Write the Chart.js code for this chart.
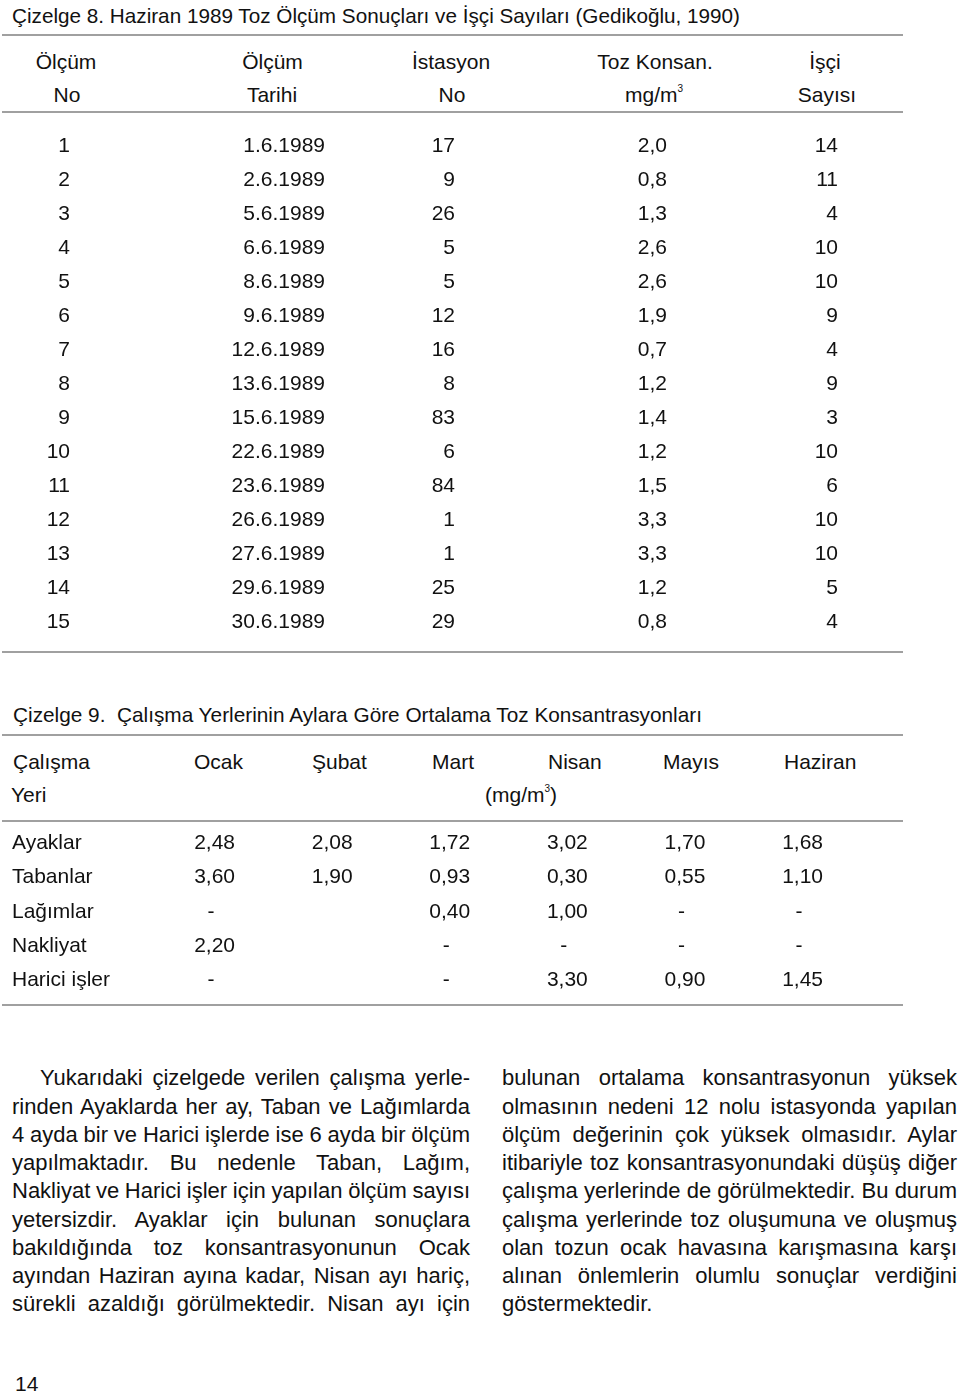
<!DOCTYPE html>
<html lang="tr"><head><meta charset="utf-8">
<script src="https://cdn.jsdelivr.net/npm/chart.js@4.4.1/dist/chart.umd.min.js"></script>
<style>
html,body{margin:0;padding:0;background:#fff}
#page{position:relative;width:960px;height:1393px;overflow:hidden;font-family:"Liberation Sans",Arial,Helvetica,sans-serif;color:#111;background:#fff}
.t{position:absolute;white-space:nowrap;line-height:1}
.rule{position:absolute;left:2px;width:901px;height:2px;background:#a0a0a0}
canvas{position:absolute;left:0}
.sup{font-size:10px;position:relative;top:-10px}
</style></head>
<body><div id="page">
<canvas id="t8" width="960" height="520" style="top:120px"></canvas>
<canvas id="t9" width="960" height="175" style="top:825px"></canvas>
</div>
<script>
// ---------- DATA: Çizelge 8 ----------
const olcumNo     = [1,2,3,4,5,6,7,8,9,10,11,12,13,14,15];
const olcumTarihi = ["1.6.1989","2.6.1989","5.6.1989","6.6.1989","8.6.1989","9.6.1989","12.6.1989","13.6.1989","15.6.1989","22.6.1989","23.6.1989","26.6.1989","27.6.1989","29.6.1989","30.6.1989"];
const istasyonNo  = [17,9,26,5,5,12,16,8,83,6,84,1,1,25,29];
const tozKonsan   = [2.0,0.8,1.3,2.6,2.6,1.9,0.7,1.2,1.4,1.2,1.5,3.3,3.3,1.2,0.8];
const isciSayisi  = [14,11,4,10,10,9,4,9,3,10,6,10,10,5,4];

// ---------- DATA: Çizelge 9 (null = "-", undefined = boş) ----------
const calismaYeri = ["Ayaklar","Tabanlar","Lağımlar","Nakliyat","Harici işler"];
const aylar       = ["Ocak","Şubat","Mart","Nisan","Mayıs","Haziran"];
const ayaklar     = [2.48,2.08,1.72,3.02,1.70,1.68];
const tabanlar    = [3.60,1.90,0.93,0.30,0.55,1.10];
const lagimlar    = [null,undefined,0.40,1.00,null,null];
const nakliyat    = [2.20,undefined,null,null,null,null];
const hariciIsler = [null,undefined,null,3.30,0.90,1.45];

// ---------- TEXT ----------
const title8 = "Çizelge 8. Haziran 1989 Toz Ölçüm Sonuçları ve İşçi Sayıları (Gedikoğlu, 1990)";
const title9 = "Çizelge 9.\u00a0\u00a0Çalışma Yerlerinin Aylara Göre Ortalama Toz Konsantrasyonları";
const head8row1 = ["Ölçüm","Ölçüm","İstasyon","Toz Konsan.","İşçi"];
const head8row2 = ["No","Tarihi","No","mg/m<span class='sup'>3</span>","Sayısı"];
const head9row1 = ["Çalışma","Ocak","Şubat","Mart","Nisan","Mayıs","Haziran"];
const head9row2 = ["Yeri","(mg/m<span class='sup'>3</span>)"];
const leftLines = [
 "Yukarıdaki çizelgede verilen çalışma yerle-",
 "rinden Ayaklarda her ay, Taban ve Lağımlarda",
 "4 ayda bir ve Harici işlerde ise 6 ayda bir ölçüm",
 "yapılmaktadır. Bu nedenle Taban, Lağım,",
 "Nakliyat ve Harici işler için yapılan ölçüm sayısı",
 "yetersizdir. Ayaklar için bulunan sonuçlara",
 "bakıldığında toz konsantrasyonunun Ocak",
 "ayından Haziran ayına kadar, Nisan ayı hariç,",
 "sürekli azaldığı görülmektedir. Nisan ayı için"
];
const rightLines = [
 "bulunan ortalama konsantrasyonun yüksek",
 "olmasının nedeni 12 nolu istasyonda yapılan",
 "ölçüm değerinin çok yüksek olmasıdır. Aylar",
 "itibariyle toz konsantrasyonundaki düşüş diğer",
 "çalışma yerlerinde de görülmektedir. Bu durum",
 "çalışma yerlerinde toz oluşumuna ve oluşmuş",
 "olan tozun ocak havasına karışmasına karşı",
 "alınan önlemlerin olumlu sonuçlar verdiğini",
 "göstermektedir."
];
const pageNo = "14";

// ---------- LAYOUT ----------
const page = document.getElementById('page');
const FONT = '"Liberation Sans", Arial, Helvetica, sans-serif';
const INK = '#111';
function place(html, x, baseline, fs, align){
  const d = document.createElement('div');
  d.className = 't';
  d.style.fontSize = fs + 'px';
  d.innerHTML = html;
  d.style.top = (baseline - 0.8465*fs) + 'px';
  if (align === 'center'){ d.style.left = x + 'px'; d.style.transform = 'translateX(-50%)'; }
  else if (align === 'right'){ d.style.right = (960 - x) + 'px'; }
  else d.style.left = x + 'px';
  page.appendChild(d);
  return d;
}
function fitScale(el, w){
  const nat = el.getBoundingClientRect().width;
  el.style.transformOrigin = 'left';
  el.style.transform = 'scaleX(' + (w/nat) + ')';
}
function fitWords(el, w){
  const nat = el.getBoundingClientRect().width;
  const n = (el.textContent.match(/ /g) || []).length;
  if (n) el.style.wordSpacing = ((w - nat)/n) + 'px';
}
function rule(y){ const r = document.createElement('div'); r.className='rule'; r.style.top = y + 'px'; page.appendChild(r); }

// titles
fitScale(place(title8, 12, 23, 21, 'left'), 728);
fitScale(place(title9, 13, 722, 21, 'left'), 689);
[34,111,651,734,820,1004].forEach(rule);

// table 8 header
const h8c1 = [66,272.5,451,655,825];
const h8c2 = [67,272,452,654,827];
head8row1.forEach((s,i)=>place(s, h8c1[i], 69, 21, 'center'));
head8row2.forEach((s,i)=>place(s, h8c2[i], 102, 21, 'center'));

// table 9 header
const h9x1 = [13,194,312,432,548,663,784];
head9row1.forEach((s,i)=>place(s, h9x1[i], 769, 21, 'left'));
place(head9row2[0], 11, 802, 21, 'left');
place(head9row2[1], 485, 802, 21, 'left');

// paragraphs
const PFS = 22, LH = 28.25, B0 = 1086;
leftLines.forEach((s,i)=>{
  const x0 = i === 0 ? 40 : 12;
  const el = place(s, x0, B0 + LH*i, PFS, 'left');
  fitWords(el, 470 - x0);
});
rightLines.forEach((s,i)=>{
  const el = place(s, 502, B0 + LH*i, PFS, 'left');
  if (i < rightLines.length - 1) fitWords(el, 455);
});
place(pageNo, 15, 1391, 21, 'left');

// ---------- CHART.JS TABLES ----------
const cellText = {
  id: 'cellText',
  afterDatasetsDraw(chart, args, opts){
    const ctx = chart.ctx;
    ctx.save();
    ctx.font = opts.font; ctx.fillStyle = opts.color; ctx.textBaseline = 'alphabetic';
    chart.data.datasets.forEach((ds, di)=>{
      const meta = chart.getDatasetMeta(di);
      meta.data.forEach((el, i)=>{
        const raw = ds.data[i];
        if (raw.v === null){ ctx.textAlign = 'center'; ctx.fillText('-', el.x + opts.dashOffset, el.y); }
        else { ctx.textAlign = 'right'; ctx.fillText(ds.fmt(raw.v), el.x, el.y); }
      });
    });
    if (opts.rowLabelX !== undefined){
      const ys = chart.scales.y;
      ctx.textAlign = 'left';
      ys.getLabels().forEach((lab, i)=>ctx.fillText(lab, opts.rowLabelX, ys.getPixelForTick(i)));
    }
    ctx.restore();
  }
};
const comma = d => v => v.toFixed(d).replace('.', ',');

// Çizelge 8
const t8Columns = [
  {values: olcumNo,     fmt: String},
  {values: olcumTarihi, fmt: String},
  {values: istasyonNo,  fmt: String},
  {values: tozKonsan,   fmt: comma(1)},
  {values: isciSayisi,  fmt: String}
];
const t8ColumnRightEdge = [70, 325, 455, 667, 838]; // layout (px on a 0-960 axis)
const rowKeys = olcumNo.map(String);
new Chart(document.getElementById('t8'), {
  type: 'scatter',
  data: { datasets: t8Columns.map((c, ci)=>({
    data: c.values.map((v, i)=>({x: t8ColumnRightEdge[ci], y: rowKeys[i], v})),
    fmt: c.fmt, pointRadius: 0, pointHoverRadius: 0
  })) },
  options: {
    responsive: false, animation: false, events: [], devicePixelRatio: 1,
    layout: { padding: {top: 32, bottom: 12, left: 0, right: 0} },
    scales: {
      x: {type: 'linear', min: 0, max: 960, display: false},
      y: {type: 'category', labels: rowKeys, offset: false, display: false}
    },
    plugins: { legend: {display: false}, tooltip: {enabled: false},
      cellText: {font: '21px ' + FONT, color: INK, dashOffset: 0} }
  },
  plugins: [cellText]
});

// Çizelge 9
const t9Rows = [ayaklar, tabanlar, lagimlar, nakliyat, hariciIsler];
new Chart(document.getElementById('t9'), {
  type: 'scatter',
  data: { datasets: aylar.map((ay, m)=>({
    data: t9Rows.map((row, r)=>({x: ay, y: calismaYeri[r], v: row[m]})).filter(p=>p.v !== undefined),
    fmt: comma(2), pointRadius: 0, pointHoverRadius: 0
  })) },
  options: {
    responsive: false, animation: false, events: [], devicePixelRatio: 1,
    layout: { padding: {top: 24, bottom: 14, left: 235, right: 137} },
    scales: {
      x: {type: 'category', labels: aylar, offset: false, display: false},
      y: {type: 'category', labels: calismaYeri, offset: false, display: false}
    },
    plugins: { legend: {display: false}, tooltip: {enabled: false},
      cellText: {font: '21px ' + FONT, color: INK, dashOffset: -24, rowLabelX: 12} }
  },
  plugins: [cellText]
});
</script>
</body></html>
